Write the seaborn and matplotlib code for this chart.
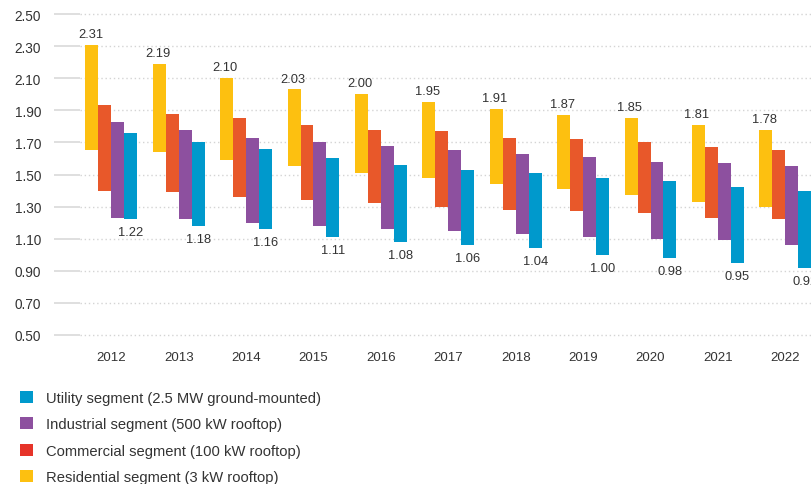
import matplotlib
matplotlib.use('Agg')
import matplotlib.pyplot as plt
import pandas as pd
import seaborn as sns
from matplotlib.patches import Patch

# values (range low..high per segment and year)
years = ['2012', '2013', '2014', '2015', '2016', '2017', '2018', '2019', '2020', '2021', '2022']

res_high = [2.31, 2.19, 2.10, 2.03, 2.00, 1.95, 1.91, 1.87, 1.85, 1.81, 1.78]
res_low = [1.65, 1.64, 1.59, 1.55, 1.51, 1.48, 1.44, 1.41, 1.37, 1.33, 1.30]

com_high = [1.93, 1.88, 1.85, 1.81, 1.78, 1.77, 1.73, 1.72, 1.70, 1.67, 1.65]
com_low = [1.40, 1.39, 1.36, 1.34, 1.32, 1.30, 1.28, 1.27, 1.26, 1.23, 1.22]

ind_high = [1.83, 1.78, 1.73, 1.70, 1.68, 1.65, 1.63, 1.61, 1.58, 1.57, 1.55]
ind_low = [1.23, 1.22, 1.20, 1.18, 1.16, 1.15, 1.13, 1.11, 1.10, 1.09, 1.06]

uti_high = [1.76, 1.70, 1.66, 1.60, 1.56, 1.53, 1.51, 1.48, 1.46, 1.42, 1.40]
uti_low = [1.22, 1.18, 1.16, 1.11, 1.08, 1.06, 1.04, 1.00, 0.98, 0.95, 0.92]

segments = ['Residential segment (3 kW rooftop)',
            'Commercial segment (100 kW rooftop)',
            'Industrial segment (500 kW rooftop)',
            'Utility segment (2.5 MW ground-mounted)']
bar_colors = ['#fdc010', '#e8582a', '#8d509f', '#0099cc']
legend_colors = ['#fdc010', '#e63329', '#8d509f', '#0099cc']

highs = [res_high, com_high, ind_high, uti_high]
lows = [res_low, com_low, ind_low, uti_low]

rows = []
for seg, hi, lo in zip(segments, highs, lows):
    for y, h, l in zip(years, hi, lo):
        rows.append({'year': y, 'segment': seg, 'high': h, 'low': l})
df = pd.DataFrame(rows)

sns.set_theme(style='white')
plt.rcParams['font.family'] = ['Liberation Sans', 'DejaVu Sans']
text_color = '#333333'

fig = plt.figure(figsize=(8.12, 4.85), dpi=100)
ax = fig.add_axes([80 / 812, 1 - 339.2 / 485, 1 - 80 / 812, 327.4 / 485])

sns.barplot(
    data=df, x='year', y='high', hue='segment',
    hue_order=segments, palette=bar_colors,
    width=0.77, saturation=1, errorbar=None,
    linewidth=0, legend=False, ax=ax
)

# turn the bars into floating ranges low..high
for container, lo_vals, hi_vals in zip(ax.containers, lows, highs):
    for bar, lo, hi in zip(container, lo_vals, hi_vals):
        bar.set_y(lo)
        bar.set_height(hi - lo)

# labels: top of residential, bottom of utility
for bar, hi in zip(ax.containers[0], res_high):
    ax.annotate(f'{hi:.2f}', (bar.get_x() + bar.get_width() / 2, hi),
                xytext=(-1, 3.5), textcoords='offset points',
                ha='center', va='bottom', fontsize=9.3, color=text_color)
for bar, lo in zip(ax.containers[3], uti_low):
    ax.annotate(f'{lo:.2f}', (bar.get_x() + bar.get_width() / 2, lo),
                xytext=(0, -5), textcoords='offset points',
                ha='center', va='top', fontsize=9.3, color=text_color)

ax.set_xlim(-0.464, 10.396)
ax.set_ylim(0.48, 2.52)
ax.set_yticks([0.5 + 0.2 * i for i in range(11)])
ax.yaxis.set_major_formatter(matplotlib.ticker.FormatStrFormatter('%.2f'))
ax.set_xlabel('')
ax.set_ylabel('')

ax.yaxis.grid(True, color='#d4d4d4', linestyle=(0, (1, 2)), linewidth=1)
ax.xaxis.grid(False)
ax.set_axisbelow(True)
for s in ax.spines.values():
    s.set_visible(False)

ax.tick_params(axis='y', direction='out', length=18.7, width=1.3,
               color='#dcdcdc', pad=9.4, labelsize=9.8, labelcolor=text_color,
               left=True)
ax.tick_params(axis='x', length=0, pad=9, labelsize=9.5, labelcolor=text_color)

# legend, in the reference order (utility first)
handles = [Patch(facecolor=legend_colors[i], edgecolor='none') for i in [3, 2, 1, 0]]
labels = [segments[i] for i in [3, 2, 1, 0]]
fig.legend(handles, labels, loc='upper left', bbox_to_anchor=(20 / 812, 1 - 392 / 485),
           frameon=False, fontsize=10.6, handlelength=0.9, handleheight=0.9,
           handletextpad=0.85, labelspacing=0.82, borderpad=0, borderaxespad=0,
           labelcolor=text_color)

fig.savefig('out.png', dpi=100)
